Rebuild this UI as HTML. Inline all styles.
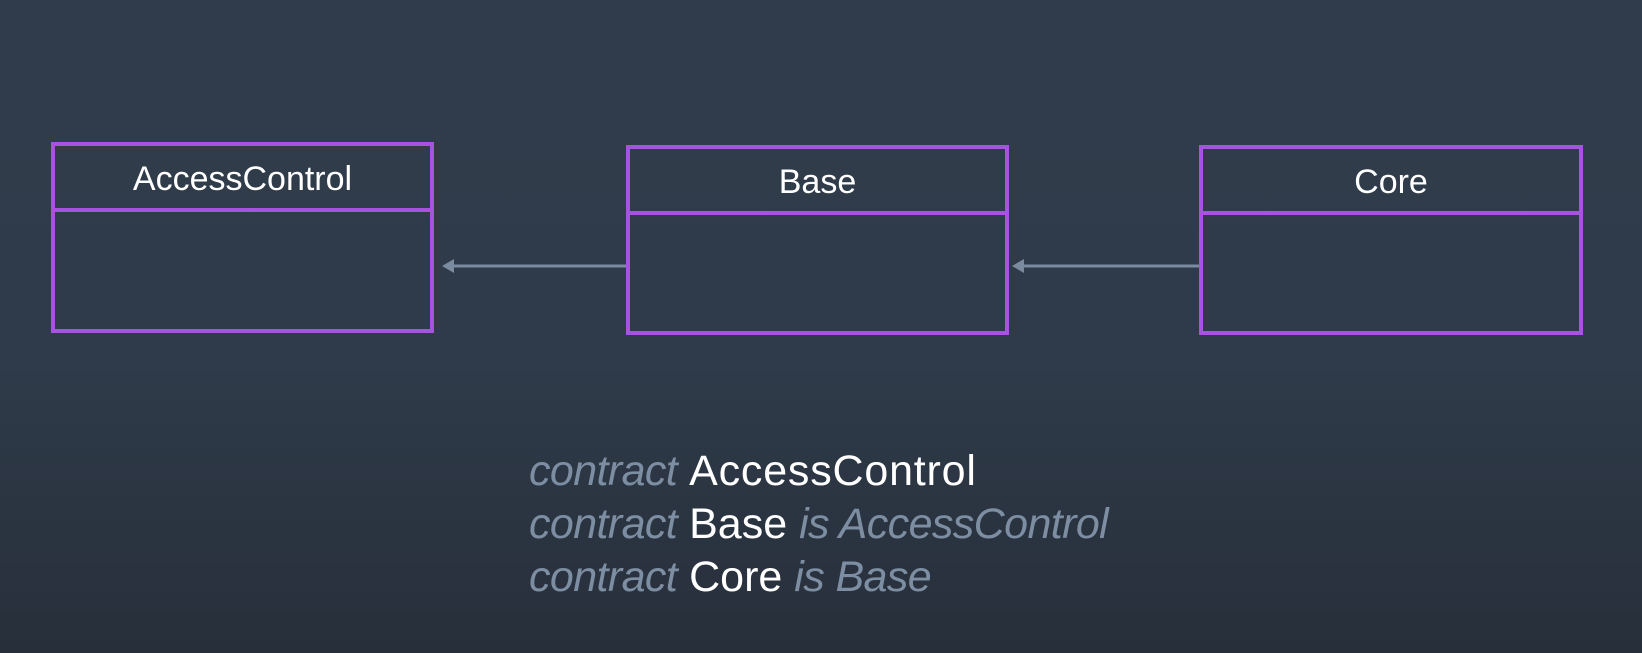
<!DOCTYPE html>
<html><head><style>
html,body{margin:0;padding:0}
body{width:1642px;height:653px;overflow:hidden;background:linear-gradient(#303c4b 0%,#2f3b4a 55%,#272f3a 100%);font-family:"Liberation Sans",sans-serif;position:relative}
.box{position:absolute;border:4px solid #a753e2;box-sizing:border-box}
.hd{position:absolute;left:0;right:0;top:0;border-bottom:4px solid #a753e2;color:#fff;text-align:center;font-size:34px}
.t{position:absolute;left:529px;font-size:43px;color:#fff;white-space:nowrap;letter-spacing:0px}
.t i{color:#7d8ea3;font-weight:300;letter-spacing:-0.6px}
</style></head><body>
<div class="box" style="left:51px;top:142px;width:383px;height:191px"><div class="hd" style="height:62px;line-height:66px">AccessControl</div></div>
<div class="box" style="left:626px;top:145px;width:383px;height:190px"><div class="hd" style="height:62px;line-height:66px">Base</div></div>
<div class="box" style="left:1199px;top:145px;width:384px;height:190px"><div class="hd" style="height:62px;line-height:66px">Core</div></div>
<svg width="1642" height="653" style="position:absolute;left:0;top:0">
<g stroke="#7a8ba0" stroke-width="3" fill="#7a8ba0">
<line x1="448" y1="266" x2="626" y2="266"/><polygon points="442,266 454,259 454,273" stroke="none"/>
<line x1="1018" y1="266" x2="1199" y2="266"/><polygon points="1012,266 1024,259 1024,273" stroke="none"/>
</g></svg>
<div class="t" style="top:447px"><i>contract</i> <span style="letter-spacing:0.8px">AccessControl</span></div>
<div class="t" style="top:500px"><i>contract</i> Base <i>is AccessControl</i></div>
<div class="t" style="top:553px"><i>contract</i> Core <i>is Base</i></div>
</body></html>
